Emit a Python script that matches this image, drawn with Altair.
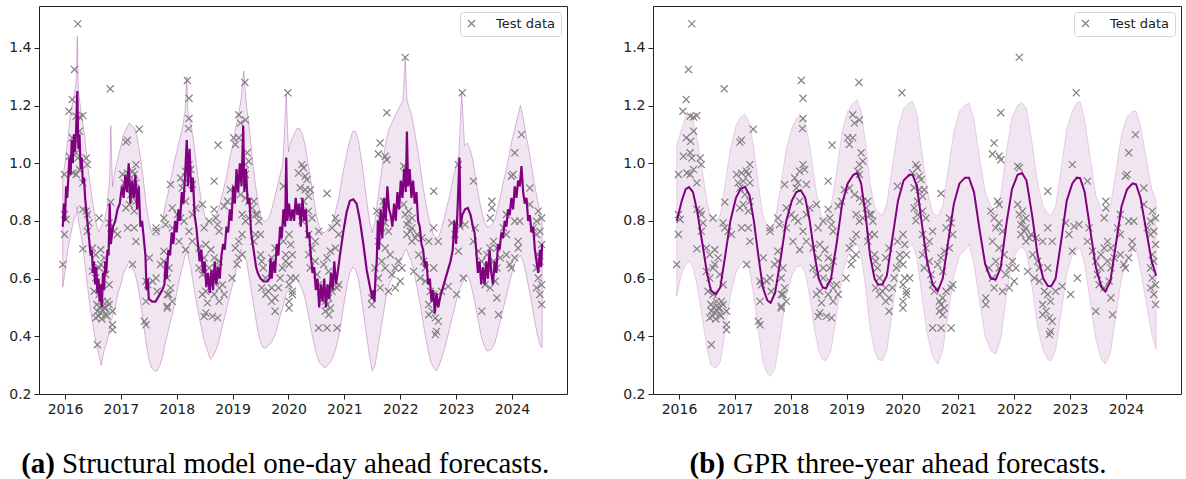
import altair as alt
import pandas as pd

# ---------------- Test data (year, value), grouped by year ----------------
test_2016 = [
    (2015.96, 0.649), (2015.99, 0.961), (2015.99, 0.822), (2016.02, 0.805), (2015.99, 0.753),
    (2016.23, 1.483), (2016.17, 1.325), (2016.81, 1.258), (2016.13, 1.221), (2016.07, 1.18),
    (2016.20, 1.163), (2016.26, 1.16), (2016.32, 1.165), (2016.26, 1.111), (2016.13, 1.088),
    (2016.21, 1.076), (2016.08, 1.024), (2016.20, 1.036), (2016.23, 1.018), (2016.38, 1.018),
    (2016.40, 0.995), (2016.14, 0.966), (2016.20, 0.961), (2016.26, 0.978), (2016.32, 0.932),
    (2016.82, 0.865), (2016.32, 0.84), (2016.38, 0.834), (2016.40, 0.822), (2016.43, 0.793),
    (2016.40, 0.764), (2016.61, 0.81), (2016.79, 0.793), (2016.82, 0.776), (2016.88, 0.764),
    (2016.94, 0.753), (2016.32, 0.703), (2016.49, 0.706), (2016.55, 0.683), (2016.64, 0.70),
    (2016.70, 0.672), (2016.64, 0.649), (2016.49, 0.625), (2016.55, 0.602), (2016.61, 0.637),
    (2016.73, 0.614), (2016.79, 0.579), (2016.52, 0.556), (2016.61, 0.545), (2016.67, 0.521),
    (2016.70, 0.498), (2016.73, 0.475), (2016.79, 0.51), (2016.85, 0.487), (2016.64, 0.481),
    (2016.55, 0.464), (2016.58, 0.487), (2016.76, 0.521), (2016.60, 0.47), (2016.66, 0.46),
    (2016.68, 0.49), (2016.72, 0.50), (2016.62, 0.50), (2016.57, 0.51), (2016.75, 0.47),
    (2016.85, 0.44), (2016.85, 0.423), (2016.58, 0.371),
]
test_2017 = [
    (2017.33, 1.118), (2017.09, 1.073), (2017.12, 1.08), (2017.03, 0.961), (2017.12, 0.966),
    (2017.21, 0.972), (2017.27, 0.995), (2017.24, 0.961), (2017.06, 0.932), (2017.15, 0.938),
    (2017.27, 0.932), (2017.09, 0.914), (2017.18, 0.891), (2017.27, 0.868), (2017.09, 0.845),
    (2017.15, 0.857), (2017.24, 0.834), (2017.12, 0.776), (2017.24, 0.776), (2017.27, 0.729),
    (2017.21, 0.649), (2017.45, 0.591), (2017.48, 0.579), (2017.45, 0.521), (2017.42, 0.452),
    (2017.45, 0.44), (2017.51, 0.672), (2017.63, 0.776), (2017.63, 0.764), (2017.77, 0.81),
    (2017.80, 0.787), (2017.89, 0.926), (2017.77, 0.695), (2017.77, 0.66), (2017.63, 0.602),
    (2017.57, 0.591), (2017.65, 0.556), (2017.83, 0.545), (2017.83, 0.498), (2017.71, 0.649),
    (2017.92, 0.845), (2017.92, 0.776), (2017.86, 0.637), (2017.83, 0.602), (2017.89, 0.568),
    (2017.86, 0.545), (2017.92, 0.521), (2017.83, 0.504),
]
test_2018 = [
    (2018.19, 1.287), (2018.22, 1.225), (2018.22, 1.155), (2018.21, 1.12), (2018.74, 1.063),
    (2018.67, 0.938), (2018.22, 0.995), (2018.16, 0.972), (2018.25, 0.978), (2018.07, 0.949),
    (2018.13, 0.932), (2018.28, 0.926), (2018.10, 0.914), (2018.01, 0.822), (2018.07, 0.81),
    (2018.16, 0.868), (2018.13, 0.799), (2018.22, 0.764), (2018.28, 0.822), (2018.34, 0.845),
    (2018.46, 0.857), (2018.49, 0.776), (2018.58, 0.799), (2018.67, 0.84), (2018.70, 0.81),
    (2018.73, 0.787), (2018.76, 0.764), (2018.85, 0.851), (2018.91, 0.868), (2018.04, 0.729),
    (2018.16, 0.70), (2018.28, 0.729), (2018.40, 0.706), (2018.49, 0.672), (2018.52, 0.718),
    (2018.58, 0.637), (2018.61, 0.70), (2018.67, 0.672), (2018.70, 0.637), (2018.76, 0.66),
    (2018.40, 0.637), (2018.46, 0.614), (2018.58, 0.602), (2018.70, 0.591), (2018.76, 0.568),
    (2018.82, 0.579), (2018.67, 0.545), (2018.52, 0.556), (2018.46, 0.545), (2018.55, 0.516),
    (2018.52, 0.481), (2018.64, 0.469), (2018.73, 0.464), (2018.49, 0.469), (2018.76, 0.521),
    (2018.85, 0.545), (2018.96, 0.908), (2018.99, 0.602),
]
test_2019 = [
    (2019.22, 1.28), (2019.99, 1.244), (2019.11, 1.168), (2019.14, 1.139), (2019.23, 1.15),
    (2019.02, 1.088), (2019.11, 1.088), (2019.05, 1.065), (2019.26, 1.036), (2019.23, 0.995),
    (2019.29, 1.007), (2019.20, 0.972), (2019.23, 0.961), (2019.05, 0.914), (2019.14, 0.891),
    (2019.23, 0.879), (2019.29, 0.868), (2019.17, 0.822), (2019.23, 0.799), (2019.29, 0.81),
    (2019.35, 0.845), (2019.41, 0.822), (2019.91, 0.92), (2019.05, 0.706), (2019.11, 0.672),
    (2019.17, 0.683), (2019.08, 0.649), (2019.17, 0.753), (2019.11, 0.729), (2019.38, 0.868),
    (2019.44, 0.822), (2019.47, 0.799), (2019.41, 0.753), (2019.38, 0.729), (2019.50, 0.753),
    (2019.50, 0.683), (2019.52, 0.66), (2019.55, 0.637), (2019.59, 0.602), (2019.52, 0.568),
    (2019.59, 0.545), (2019.64, 0.556), (2019.70, 0.568), (2019.76, 0.533), (2019.70, 0.521),
    (2019.82, 0.568), (2019.85, 0.602), (2019.89, 0.637), (2019.70, 0.672), (2019.76, 0.706),
    (2019.91, 0.729), (2019.95, 0.683), (2019.76, 0.487), (2019.95, 0.66),
]
test_2020 = [
    (2020.01, 0.649), (2020.04, 0.602), (2020.01, 0.579), (2020.07, 0.556), (2020.01, 0.521),
    (2020.24, 0.995), (2020.27, 0.984), (2020.18, 0.966), (2020.30, 0.955), (2020.33, 0.943),
    (2020.21, 0.915), (2020.30, 0.908), (2020.36, 0.885), (2020.39, 0.908), (2020.27, 0.868),
    (2020.69, 0.895), (2020.21, 0.845), (2020.27, 0.822), (2020.24, 0.80), (2020.36, 0.834),
    (2020.42, 0.81), (2020.36, 0.753), (2020.48, 0.729), (2020.54, 0.764), (2020.42, 0.706),
    (2020.36, 0.683), (2020.48, 0.66), (2020.39, 0.637), (2020.51, 0.614), (2020.54, 0.579),
    (2020.57, 0.556), (2020.84, 0.81), (2020.87, 0.793), (2020.78, 0.776), (2020.90, 0.753),
    (2020.84, 0.706), (2020.75, 0.695), (2020.69, 0.672), (2020.63, 0.649), (2020.72, 0.625),
    (2020.90, 0.579), (2020.87, 0.568), (2020.78, 0.556), (2020.72, 0.533), (2020.66, 0.521),
    (2020.69, 0.51), (2020.75, 0.498), (2020.66, 0.487), (2020.72, 0.475), (2020.54, 0.429),
    (2020.69, 0.429), (2020.87, 0.429), (2020.01, 0.753), (2020.04, 0.718), (2020.07, 0.683),
    (2020.13, 0.602), (2020.07, 0.545), (2020.01, 0.498),
]
test_2021 = [
    (2021.76, 1.175), (2021.64, 1.07), (2021.61, 1.032), (2021.73, 1.024), (2021.76, 1.012),
    (2021.58, 0.834), (2021.64, 0.81), (2021.67, 0.776), (2021.73, 0.793), (2021.79, 0.764),
    (2021.61, 0.729), (2021.73, 0.706), (2021.82, 0.683), (2021.67, 0.66), (2021.73, 0.637),
    (2021.55, 0.637), (2021.61, 0.602), (2021.64, 0.568), (2021.79, 0.556), (2021.91, 0.568),
    (2021.85, 0.614), (2021.91, 0.637), (2021.97, 0.66), (2021.49, 0.533), (2021.49, 0.51),
    (2021.70, 0.868), (2021.73, 0.857),
]
test_2022 = [
    (2022.09, 1.367), (2022.06, 0.99), (2022.09, 0.984), (2022.06, 0.857), (2022.15, 0.834),
    (2022.21, 0.81), (2022.12, 0.787), (2022.18, 0.764), (2022.27, 0.741), (2022.00, 0.591),
    (2022.03, 0.637), (2022.24, 0.625), (2022.60, 0.903), (2022.09, 0.822), (2022.15, 0.80),
    (2022.21, 0.776), (2022.12, 0.753), (2022.21, 0.729), (2022.30, 0.753), (2022.39, 0.741),
    (2022.51, 0.729), (2022.33, 0.683), (2022.42, 0.66), (2022.45, 0.637), (2022.36, 0.602),
    (2022.45, 0.591), (2022.60, 0.637), (2022.68, 0.729), (2022.60, 0.776), (2022.54, 0.556),
    (2022.60, 0.545), (2022.65, 0.521), (2022.51, 0.51), (2022.57, 0.487), (2022.63, 0.464),
    (2022.68, 0.452), (2022.65, 0.417), (2022.63, 0.406), (2022.51, 0.475), (2022.74, 0.556),
    (2022.86, 0.573), (2022.92, 0.793), (2022.98, 0.753),
]
test_2023 = [
    (2023.11, 1.244), (2023.04, 0.995), (2023.31, 0.938), (2023.64, 0.868), (2023.64, 0.845),
    (2023.61, 0.81), (2023.90, 0.822), (2023.85, 0.776), (2023.90, 0.753), (2023.01, 0.545),
    (2023.04, 0.695), (2023.13, 0.602), (2023.07, 0.781), (2023.16, 0.787), (2023.34, 0.776),
    (2023.31, 0.729), (2023.40, 0.695), (2023.46, 0.66), (2023.55, 0.683), (2023.61, 0.706),
    (2023.67, 0.729), (2023.73, 0.706), (2023.67, 0.66), (2023.73, 0.637), (2023.79, 0.672),
    (2023.55, 0.637), (2023.49, 0.614), (2023.52, 0.579), (2023.61, 0.568), (2023.70, 0.591),
    (2023.46, 0.487), (2023.73, 0.533), (2023.76, 0.475), (2023.90, 0.683), (2023.96, 0.649),
    (2023.99, 0.637), (2023.99, 0.955),
]
test_2024 = [
    (2024.17, 1.099), (2024.05, 1.036), (2024.02, 0.961), (2024.05, 0.799), (2024.14, 0.799),
    (2024.32, 0.857), (2024.32, 0.914), (2024.47, 0.834), (2024.53, 0.81), (2024.44, 0.799),
    (2024.50, 0.764), (2024.38, 0.776), (2024.44, 0.753), (2024.53, 0.718), (2024.47, 0.683),
    (2024.50, 0.66), (2024.44, 0.637), (2024.47, 0.602), (2024.53, 0.579), (2024.44, 0.568),
    (2024.50, 0.545), (2024.53, 0.51), (2024.05, 0.672), (2024.11, 0.706), (2024.11, 0.729),
]

# ---------------- Panel (a): structural model one-day ahead ----------------
a_mean = [
    (2015.96, 0.78), (2015.98, 0.86), (2016.00, 0.80), (2016.02, 0.92), (2016.04, 0.88),
    (2016.06, 0.95), (2016.08, 1.02), (2016.10, 0.96), (2016.12, 1.08), (2016.14, 1.00),
    (2016.16, 1.10), (2016.18, 1.04), (2016.20, 1.12), (2016.22, 1.25), (2016.24, 1.05),
    (2016.26, 1.10), (2016.28, 0.98), (2016.30, 1.02), (2016.32, 0.93), (2016.34, 0.95),
    (2016.36, 0.88), (2016.38, 0.84), (2016.40, 0.80), (2016.42, 0.76), (2016.44, 0.72),
    (2016.46, 0.68), (2016.48, 0.70), (2016.50, 0.62), (2016.52, 0.66), (2016.54, 0.58),
    (2016.56, 0.64), (2016.58, 0.55), (2016.60, 0.60), (2016.62, 0.52), (2016.64, 0.58),
    (2016.66, 0.50), (2016.68, 0.62), (2016.70, 0.56), (2016.72, 0.66), (2016.74, 0.62),
    (2016.76, 0.70), (2016.78, 0.68), (2016.80, 0.86), (2016.82, 0.72), (2016.86, 0.78),
    (2016.90, 0.80), (2016.94, 0.84), (2016.98, 0.86), (2017.02, 0.92), (2017.05, 0.88),
    (2017.08, 0.96), (2017.11, 0.90), (2017.14, 1.00), (2017.17, 0.86), (2017.20, 0.94),
    (2017.23, 0.88), (2017.26, 0.96), (2017.29, 0.84), (2017.32, 0.92), (2017.35, 0.78),
    (2017.38, 0.80), (2017.41, 0.74), (2017.44, 0.68), (2017.46, 0.56), (2017.48, 0.60),
    (2017.50, 0.53), (2017.56, 0.52), (2017.62, 0.52), (2017.68, 0.54), (2017.74, 0.56),
    (2017.78, 0.58), (2017.80, 0.66), (2017.82, 0.60), (2017.85, 0.70), (2017.88, 0.68),
    (2017.91, 0.76), (2017.94, 0.72), (2017.97, 0.80), (2018.00, 0.76), (2018.03, 0.84),
    (2018.06, 0.80), (2018.09, 0.90), (2018.12, 0.86), (2018.15, 0.96), (2018.18, 1.08),
    (2018.20, 0.92), (2018.23, 1.05), (2018.26, 0.90), (2018.29, 0.95), (2018.32, 0.82),
    (2018.35, 0.78), (2018.38, 0.72), (2018.41, 0.66), (2018.44, 0.70), (2018.47, 0.62),
    (2018.50, 0.66), (2018.53, 0.57), (2018.56, 0.62), (2018.59, 0.55), (2018.62, 0.63),
    (2018.65, 0.56), (2018.68, 0.66), (2018.71, 0.58), (2018.74, 0.64), (2018.77, 0.60),
    (2018.80, 0.68), (2018.83, 0.72), (2018.86, 0.70), (2018.89, 0.78), (2018.92, 0.76),
    (2018.95, 0.84), (2018.98, 0.80), (2019.01, 0.92), (2019.04, 0.86), (2019.07, 0.98),
    (2019.10, 0.90), (2019.13, 1.00), (2019.16, 0.92), (2019.19, 1.13), (2019.21, 0.90),
    (2019.24, 0.98), (2019.27, 0.86), (2019.30, 0.88), (2019.33, 0.76), (2019.36, 0.72),
    (2019.39, 0.68), (2019.42, 0.64), (2019.45, 0.62), (2019.50, 0.60), (2019.56, 0.59),
    (2019.62, 0.59), (2019.66, 0.60), (2019.68, 0.67), (2019.70, 0.60), (2019.73, 0.66),
    (2019.76, 0.62), (2019.79, 0.72), (2019.82, 0.68), (2019.85, 0.78), (2019.88, 0.74),
    (2019.91, 0.84), (2019.94, 0.78), (2019.96, 1.02), (2019.98, 0.80), (2020.01, 0.86),
    (2020.04, 0.80), (2020.07, 0.84), (2020.10, 0.80), (2020.13, 0.88), (2020.16, 0.82),
    (2020.19, 0.86), (2020.22, 0.78), (2020.25, 0.88), (2020.28, 0.80), (2020.31, 0.84),
    (2020.34, 0.74), (2020.37, 0.76), (2020.40, 0.68), (2020.43, 0.62), (2020.46, 0.64),
    (2020.49, 0.56), (2020.52, 0.60), (2020.55, 0.50), (2020.58, 0.58), (2020.61, 0.52),
    (2020.64, 0.60), (2020.67, 0.50), (2020.70, 0.58), (2020.73, 0.53), (2020.76, 0.62),
    (2020.79, 0.56), (2020.82, 0.66), (2020.85, 0.58), (2020.88, 0.62), (2020.92, 0.68),
    (2020.98, 0.76), (2021.04, 0.83), (2021.10, 0.87), (2021.16, 0.875), (2021.22, 0.86),
    (2021.28, 0.80), (2021.34, 0.72), (2021.40, 0.63), (2021.46, 0.57), (2021.50, 0.53),
    (2021.52, 0.56), (2021.54, 0.52), (2021.56, 0.62), (2021.58, 0.66), (2021.60, 0.80),
    (2021.62, 0.70), (2021.65, 0.84), (2021.68, 0.74), (2021.71, 0.88), (2021.74, 0.80),
    (2021.77, 0.92), (2021.80, 0.84), (2021.83, 0.82), (2021.86, 0.78), (2021.89, 0.86),
    (2021.92, 0.80), (2021.95, 0.90), (2021.98, 0.84), (2022.01, 0.94), (2022.04, 0.88),
    (2022.07, 0.98), (2022.10, 0.90), (2022.12, 1.11), (2022.14, 0.92), (2022.17, 0.98),
    (2022.20, 0.88), (2022.23, 0.94), (2022.26, 0.86), (2022.29, 0.90), (2022.32, 0.80),
    (2022.35, 0.78), (2022.38, 0.72), (2022.41, 0.70), (2022.44, 0.64), (2022.47, 0.66),
    (2022.50, 0.58), (2022.53, 0.60), (2022.56, 0.52), (2022.59, 0.56), (2022.62, 0.48),
    (2022.65, 0.55), (2022.68, 0.50), (2022.72, 0.54), (2022.78, 0.58), (2022.84, 0.62),
    (2022.90, 0.66), (2022.94, 0.70), (2022.97, 0.80), (2023.00, 0.72), (2023.03, 0.86),
    (2023.06, 1.02), (2023.08, 0.78), (2023.11, 0.82), (2023.16, 0.84), (2023.21, 0.845),
    (2023.26, 0.82), (2023.30, 0.78), (2023.33, 0.76), (2023.36, 0.70), (2023.39, 0.62),
    (2023.42, 0.66), (2023.45, 0.58), (2023.48, 0.64), (2023.51, 0.58), (2023.54, 0.66),
    (2023.57, 0.60), (2023.60, 0.70), (2023.63, 0.62), (2023.66, 0.58), (2023.69, 0.66),
    (2023.72, 0.62), (2023.75, 0.72), (2023.78, 0.70), (2023.81, 0.76), (2023.84, 0.74),
    (2023.87, 0.80), (2023.90, 0.78), (2023.93, 0.84), (2023.96, 0.82), (2023.99, 0.88),
    (2024.02, 0.84), (2024.05, 0.92), (2024.08, 0.88), (2024.11, 0.94), (2024.14, 0.92),
    (2024.17, 0.99), (2024.20, 0.90), (2024.23, 0.86), (2024.26, 0.88), (2024.29, 0.80),
    (2024.32, 0.82), (2024.35, 0.76), (2024.38, 0.78), (2024.41, 0.70), (2024.44, 0.66),
    (2024.47, 0.62), (2024.50, 0.70), (2024.52, 0.64), (2024.54, 0.72),
]
# (year, lower, upper)
a_band = [
    (2015.96, 0.57, 0.95), (2016.00, 0.62, 1.00), (2016.05, 0.70, 1.08), (2016.10, 0.75, 1.18),
    (2016.15, 0.80, 1.22), (2016.20, 0.82, 1.28), (2016.22, 0.85, 1.44), (2016.24, 0.80, 1.25),
    (2016.30, 0.74, 1.16), (2016.35, 0.66, 1.10), (2016.40, 0.58, 1.00), (2016.45, 0.50, 0.93),
    (2016.50, 0.44, 0.86), (2016.55, 0.38, 0.80), (2016.60, 0.34, 0.76), (2016.65, 0.30, 0.78),
    (2016.70, 0.35, 0.80), (2016.75, 0.38, 0.84), (2016.80, 0.42, 0.95), (2016.82, 0.45, 1.13),
    (2016.85, 0.47, 0.92), (2016.90, 0.50, 0.98), (2016.95, 0.55, 1.02), (2017.00, 0.58, 1.06),
    (2017.05, 0.62, 1.10), (2017.10, 0.64, 1.12), (2017.15, 0.66, 1.14), (2017.20, 0.64, 1.13),
    (2017.25, 0.62, 1.12), (2017.30, 0.58, 1.08), (2017.35, 0.52, 1.02), (2017.40, 0.45, 0.95),
    (2017.45, 0.38, 0.86), (2017.50, 0.32, 0.80), (2017.55, 0.29, 0.76), (2017.60, 0.28, 0.75),
    (2017.65, 0.28, 0.75), (2017.70, 0.30, 0.77), (2017.75, 0.33, 0.80), (2017.80, 0.38, 0.86),
    (2017.85, 0.42, 0.90), (2017.90, 0.46, 0.95), (2017.95, 0.50, 1.00), (2018.00, 0.55, 1.04),
    (2018.05, 0.60, 1.08), (2018.10, 0.64, 1.12), (2018.15, 0.68, 1.18), (2018.18, 0.70, 1.30),
    (2018.20, 0.68, 1.18), (2018.25, 0.64, 1.14), (2018.30, 0.58, 1.08), (2018.35, 0.52, 1.00),
    (2018.40, 0.47, 0.92), (2018.45, 0.42, 0.86), (2018.50, 0.38, 0.82), (2018.55, 0.35, 0.80),
    (2018.60, 0.32, 0.80), (2018.65, 0.33, 0.80), (2018.70, 0.35, 0.82), (2018.75, 0.38, 0.84),
    (2018.80, 0.42, 0.88), (2018.85, 0.46, 0.92), (2018.90, 0.50, 0.96), (2018.95, 0.54, 1.02),
    (2019.00, 0.58, 1.06), (2019.05, 0.62, 1.12), (2019.10, 0.66, 1.16), (2019.15, 0.70, 1.22),
    (2019.20, 0.68, 1.32), (2019.25, 0.66, 1.20), (2019.30, 0.60, 1.12), (2019.35, 0.54, 1.02),
    (2019.40, 0.48, 0.94), (2019.45, 0.42, 0.87), (2019.50, 0.38, 0.82), (2019.55, 0.36, 0.80),
    (2019.60, 0.36, 0.80), (2019.65, 0.37, 0.81), (2019.70, 0.38, 0.84), (2019.75, 0.40, 0.88),
    (2019.80, 0.43, 0.92), (2019.85, 0.47, 0.96), (2019.90, 0.50, 1.00), (2019.96, 0.55, 1.24),
    (2020.00, 0.56, 1.04), (2020.05, 0.58, 1.08), (2020.10, 0.60, 1.10), (2020.15, 0.60, 1.12),
    (2020.20, 0.58, 1.12), (2020.25, 0.56, 1.10), (2020.30, 0.53, 1.06), (2020.35, 0.48, 1.00),
    (2020.40, 0.43, 0.94), (2020.45, 0.38, 0.88), (2020.50, 0.34, 0.82), (2020.55, 0.31, 0.78),
    (2020.60, 0.30, 0.76), (2020.65, 0.29, 0.76), (2020.70, 0.30, 0.77), (2020.75, 0.31, 0.78),
    (2020.80, 0.33, 0.80), (2020.85, 0.36, 0.84), (2020.90, 0.40, 0.88), (2020.95, 0.46, 0.94),
    (2021.00, 0.52, 0.99), (2021.05, 0.58, 1.04), (2021.10, 0.62, 1.08), (2021.15, 0.64, 1.11),
    (2021.20, 0.63, 1.11), (2021.25, 0.60, 1.08), (2021.30, 0.54, 1.02), (2021.35, 0.47, 0.95),
    (2021.40, 0.40, 0.87), (2021.45, 0.33, 0.80), (2021.50, 0.28, 0.76), (2021.55, 0.30, 0.80),
    (2021.60, 0.36, 0.88), (2021.65, 0.42, 0.95), (2021.70, 0.48, 1.02), (2021.75, 0.54, 1.08),
    (2021.80, 0.58, 1.12), (2021.85, 0.60, 1.14), (2021.90, 0.62, 1.16), (2021.95, 0.64, 1.18),
    (2022.00, 0.66, 1.20), (2022.05, 0.68, 1.22), (2022.09, 0.70, 1.37), (2022.12, 0.70, 1.22),
    (2022.15, 0.68, 1.20), (2022.20, 0.66, 1.17), (2022.25, 0.62, 1.12), (2022.30, 0.57, 1.06),
    (2022.35, 0.52, 1.00), (2022.40, 0.46, 0.93), (2022.45, 0.40, 0.87), (2022.50, 0.35, 0.82),
    (2022.55, 0.31, 0.78), (2022.60, 0.29, 0.75), (2022.65, 0.28, 0.74), (2022.70, 0.30, 0.75),
    (2022.75, 0.33, 0.78), (2022.80, 0.36, 0.82), (2022.85, 0.40, 0.86), (2022.90, 0.44, 0.90),
    (2022.95, 0.48, 0.95), (2023.00, 0.52, 0.99), (2023.05, 0.56, 1.03), (2023.10, 0.58, 1.25),
    (2023.15, 0.60, 1.06), (2023.20, 0.61, 1.07), (2023.25, 0.59, 1.05), (2023.30, 0.55, 1.01),
    (2023.35, 0.50, 0.95), (2023.40, 0.45, 0.89), (2023.45, 0.40, 0.84), (2023.50, 0.37, 0.80),
    (2023.55, 0.35, 0.78), (2023.60, 0.35, 0.78), (2023.65, 0.36, 0.79), (2023.70, 0.38, 0.81),
    (2023.75, 0.42, 0.85), (2023.80, 0.46, 0.89), (2023.85, 0.50, 0.94), (2023.90, 0.54, 0.98),
    (2023.95, 0.58, 1.03), (2024.00, 0.62, 1.08), (2024.05, 0.65, 1.12), (2024.10, 0.67, 1.16),
    (2024.15, 0.68, 1.20), (2024.20, 0.66, 1.16), (2024.25, 0.62, 1.10), (2024.30, 0.57, 1.05),
    (2024.35, 0.52, 0.99), (2024.40, 0.46, 0.93), (2024.45, 0.41, 0.88), (2024.50, 0.37, 0.83),
    (2024.54, 0.36, 0.80),
]

# ---------------- Panel (b): GPR three-year ahead ----------------
# (year, mean, lower, upper)
b_series = [
    (2015.96, 0.80, 0.54, 1.06), (2016.05, 0.87, 0.62, 1.12), (2016.12, 0.91, 0.65, 1.16),
    (2016.18, 0.917, 0.66, 1.17), (2016.25, 0.90, 0.64, 1.15), (2016.33, 0.83, 0.57, 1.08),
    (2016.42, 0.72, 0.46, 0.97), (2016.50, 0.62, 0.36, 0.87), (2016.57, 0.56, 0.30, 0.81),
    (2016.66, 0.545, 0.29, 0.80), (2016.74, 0.57, 0.31, 0.82), (2016.82, 0.67, 0.41, 0.92),
    (2016.92, 0.80, 0.54, 1.05), (2017.02, 0.88, 0.62, 1.13), (2017.10, 0.91, 0.65, 1.16),
    (2017.18, 0.918, 0.66, 1.17), (2017.26, 0.89, 0.63, 1.14), (2017.34, 0.80, 0.54, 1.05),
    (2017.42, 0.68, 0.42, 0.93), (2017.50, 0.57, 0.31, 0.82), (2017.58, 0.525, 0.27, 0.78),
    (2017.64, 0.516, 0.262, 0.77), (2017.72, 0.55, 0.29, 0.80), (2017.82, 0.67, 0.41, 0.92),
    (2017.92, 0.80, 0.54, 1.05), (2018.02, 0.87, 0.61, 1.12), (2018.10, 0.90, 0.64, 1.155),
    (2018.18, 0.906, 0.645, 1.163), (2018.26, 0.88, 0.62, 1.14), (2018.34, 0.80, 0.54, 1.06),
    (2018.42, 0.69, 0.43, 0.95), (2018.50, 0.60, 0.35, 0.85), (2018.57, 0.57, 0.32, 0.81),
    (2018.63, 0.566, 0.315, 0.81), (2018.72, 0.60, 0.35, 0.85), (2018.82, 0.72, 0.47, 0.97),
    (2018.92, 0.86, 0.61, 1.11), (2019.02, 0.93, 0.68, 1.18), (2019.12, 0.96, 0.71, 1.21),
    (2019.19, 0.966, 0.72, 1.22), (2019.26, 0.93, 0.68, 1.18), (2019.34, 0.82, 0.57, 1.07),
    (2019.42, 0.68, 0.43, 0.93), (2019.50, 0.60, 0.35, 0.85), (2019.56, 0.58, 0.32, 0.83),
    (2019.64, 0.58, 0.315, 0.82), (2019.72, 0.61, 0.35, 0.86), (2019.82, 0.74, 0.49, 0.99),
    (2019.92, 0.87, 0.62, 1.12), (2020.02, 0.94, 0.69, 1.19), (2020.12, 0.96, 0.71, 1.21),
    (2020.18, 0.96, 0.72, 1.215), (2020.26, 0.92, 0.67, 1.17), (2020.34, 0.80, 0.55, 1.05),
    (2020.44, 0.66, 0.41, 0.91), (2020.54, 0.58, 0.33, 0.83), (2020.63, 0.556, 0.304, 0.816),
    (2020.72, 0.60, 0.35, 0.85), (2020.82, 0.73, 0.48, 0.98), (2020.92, 0.86, 0.61, 1.11),
    (2021.02, 0.93, 0.68, 1.18), (2021.12, 0.95, 0.70, 1.20), (2021.19, 0.95, 0.72, 1.21),
    (2021.28, 0.90, 0.65, 1.15), (2021.38, 0.77, 0.52, 1.02), (2021.48, 0.65, 0.40, 0.90),
    (2021.58, 0.60, 0.35, 0.85), (2021.67, 0.597, 0.338, 0.83), (2021.76, 0.64, 0.39, 0.89),
    (2021.86, 0.79, 0.54, 1.04), (2021.96, 0.91, 0.66, 1.16), (2022.06, 0.96, 0.70, 1.20),
    (2022.14, 0.966, 0.71, 1.21), (2022.22, 0.94, 0.69, 1.19), (2022.32, 0.82, 0.57, 1.07),
    (2022.42, 0.68, 0.43, 0.93), (2022.52, 0.60, 0.35, 0.85), (2022.60, 0.575, 0.32, 0.825),
    (2022.66, 0.573, 0.315, 0.82), (2022.74, 0.60, 0.35, 0.85), (2022.84, 0.73, 0.48, 0.98),
    (2022.94, 0.87, 0.62, 1.12), (2023.04, 0.93, 0.68, 1.18), (2023.12, 0.95, 0.70, 1.21),
    (2023.18, 0.948, 0.705, 1.215), (2023.26, 0.90, 0.65, 1.15), (2023.36, 0.77, 0.52, 1.02),
    (2023.46, 0.64, 0.39, 0.89), (2023.56, 0.57, 0.32, 0.84), (2023.63, 0.555, 0.304, 0.84),
    (2023.72, 0.59, 0.34, 0.85), (2023.82, 0.72, 0.47, 0.97), (2023.92, 0.85, 0.60, 1.10),
    (2024.02, 0.91, 0.66, 1.16), (2024.12, 0.93, 0.70, 1.18), (2024.18, 0.927, 0.705, 1.18),
    (2024.26, 0.88, 0.63, 1.13), (2024.36, 0.77, 0.52, 1.02), (2024.46, 0.66, 0.41, 0.91),
    (2024.54, 0.61, 0.356, 0.87),
]

year_ticks = [2016, 2017, 2018, 2019, 2020, 2021, 2022, 2023, 2024]
value_ticks = [0.2, 0.4, 0.6, 0.8, 1.0, 1.2, 1.4]

# ---------------- Build tables ----------------
all_test = (test_2016 + test_2017 + test_2018 + test_2019 + test_2020
            + test_2021 + test_2022 + test_2023 + test_2024)
df_test = pd.DataFrame(all_test, columns=["t", "v"])
df_test["series"] = "Test data"
df_a_mean = pd.DataFrame(a_mean, columns=["t", "v"])
df_a_band = pd.DataFrame(a_band, columns=["t", "lo", "hi"])
df_b = pd.DataFrame(b_series, columns=["t", "v", "lo", "hi"])

XPATH = "M-1,-1L1,1M-1,1L1,-1"
PURPLE = "#800080"
W, H = 528, 388

xs = alt.Scale(domain=[2015.535, 2024.985], nice=False, zero=False)
ys = alt.Scale(domain=[0.2, 1.545], nice=False, zero=False)
xaxis = alt.Axis(values=year_ticks, format="d", title=None)
yaxis = alt.Axis(values=value_ticks, format=".1f", title=None)


def panel(mean_df, band_df, tag, text, tag_x, text_x, band_stroke_op, line_w):
    band = alt.Chart(band_df).mark_area(
        fill=PURPLE, fillOpacity=0.1, stroke=PURPLE, strokeOpacity=band_stroke_op,
        strokeWidth=0.8, clip=True
    ).encode(
        x=alt.X("t:Q", scale=xs, axis=xaxis),
        y=alt.Y("lo:Q", scale=ys, axis=yaxis),
        y2="hi:Q",
    )
    pts = alt.Chart(df_test).mark_point(
        shape=XPATH, filled=False, size=50, strokeWidth=1.2, opacity=1, clip=True
    ).encode(
        x=alt.X("t:Q", scale=xs, axis=xaxis),
        y=alt.Y("v:Q", scale=ys, axis=yaxis),
        color=alt.Color(
            "series:N",
            scale=alt.Scale(domain=["Test data"], range=["#808080"]),
            legend=alt.Legend(
                title=None, orient="top-right", offset=6, padding=5,
                symbolType=XPATH, symbolSize=50, symbolStrokeWidth=1.2,
                symbolStrokeColor="#808080", symbolFillColor="transparent",
                labelFont="DejaVu Sans", labelFontSize=13, labelColor="#222",
                labelOffset=18, strokeColor="#d5d5d5", fillColor="white",
                cornerRadius=3,
            ),
        ),
    )
    line = alt.Chart(mean_df).mark_line(
        color=PURPLE, strokeWidth=line_w, clip=True
    ).encode(
        x=alt.X("t:Q", scale=xs, axis=xaxis),
        y=alt.Y("v:Q", scale=ys, axis=yaxis),
    )
    cap_df = pd.DataFrame({"k": [0]})
    cap_tag = alt.Chart(cap_df).mark_text(
        text=tag, font="Liberation Serif", fontSize=29, fontWeight="bold",
        align="right", baseline="alphabetic", color="black"
    ).encode(x=alt.value(tag_x), y=alt.value(467))
    cap_txt = alt.Chart(cap_df).mark_text(
        text=text, font="Liberation Serif", fontSize=29,
        align="left", baseline="alphabetic", color="black"
    ).encode(x=alt.value(text_x), y=alt.value(467))
    return alt.layer(band, pts, line, cap_tag, cap_txt).properties(width=W, height=H)


pa = panel(df_a_mean, df_a_band, "(a)", "Structural model one-day ahead forecasts.",
           16, 23, 0.35, 2.2)
pb = panel(df_b[["t", "v"]], df_b[["t", "lo", "hi"]], "(b)", "GPR three-year ahead forecasts.",
           72, 80, 0.2, 2.0)

chart = alt.hconcat(pa, pb, spacing=54).resolve_scale(
    color="independent"
).resolve_legend(color="independent").properties(
    padding={"left": 8, "top": 5, "right": 4, "bottom": 0}
).configure_view(
    stroke="#222", strokeWidth=1
).configure_axis(
    grid=False, domain=False, labelFont="DejaVu Sans", labelFontSize=14,
    labelColor="#222", tickColor="#222", tickSize=5, labelPadding=3
)

chart.save("out.html", embed_options={"renderer": "svg", "actions": False})
